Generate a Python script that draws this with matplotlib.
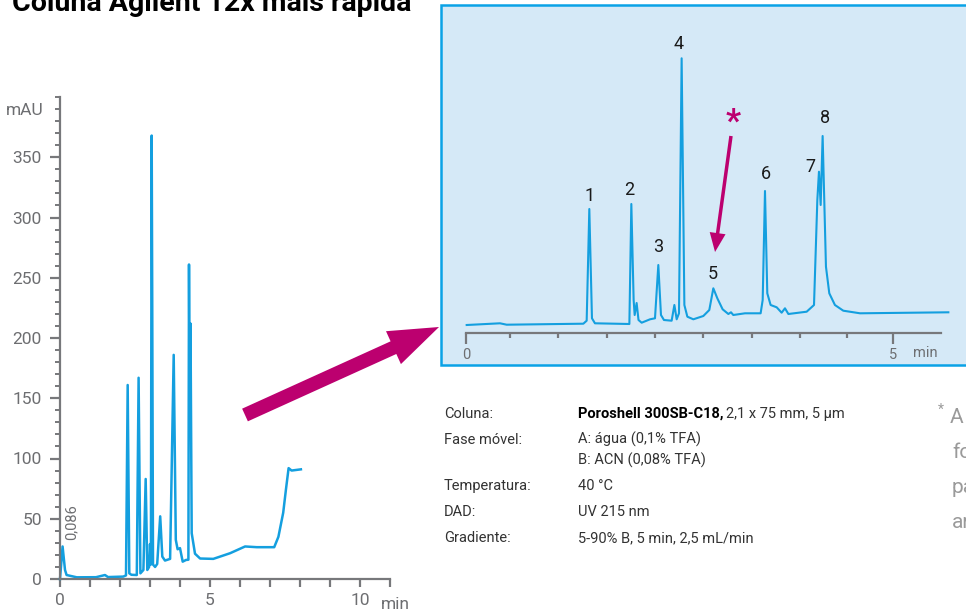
import numpy as np
import matplotlib
matplotlib.use('Agg')
import matplotlib.pyplot as plt
from matplotlib.patches import Rectangle

plt.rcParams['font.family'] = ['Roboto', 'DejaVu Sans']

# left chromatogram, standard column (min, mAU)
t_full = [0, 0.086, 0.167, 0.22, 0.56, 1.2, 1.5, 1.6, 2.11, 2.2, 2.256, 2.31, 2.38, 2.56,
          2.62, 2.68, 2.78, 2.856, 2.91, 2.97, 3.0, 3.03, 3.056, 3.075, 3.1, 3.17, 3.24,
          3.34, 3.41, 3.5, 3.67, 3.79, 3.86, 3.92, 4.0, 4.09, 4.2, 4.28, 4.3, 4.32, 4.35,
          4.39, 4.5, 4.67, 5.11, 5.67, 6.17, 6.56, 7.14, 7.28, 7.44, 7.53, 7.62, 7.72, 8.03]
mau_full = [0, 27, 7.5, 3.3, 1.4, 1.5, 3.3, 1.6, 2, 3, 161, 4.7, 3.5, 3.3,
            167, 4.7, 7.5, 83, 7.5, 10, 29, 12, 368, 226, 12, 10, 12.5,
            52, 18.6, 15.3, 16.7, 186, 32.5, 24.7, 25.6, 14.4, 15.8, 16, 261, 150, 212,
            38, 21, 17, 16.7, 21.4, 27, 26.4, 26.4, 35, 55, 74, 92, 90, 91]

# inset chromatogram, Poroshell column
t_fast = [0.008, 0.398, 0.476, 1.374, 1.413, 1.444, 1.475, 1.51, 1.913, 1.936, 1.963, 1.975,
          1.998, 2.02, 2.057, 2.155, 2.213, 2.252, 2.283, 2.318, 2.408, 2.44, 2.467, 2.494,
          2.525, 2.557, 2.592, 2.662, 2.779, 2.849, 2.896, 2.943, 3.005, 3.072, 3.103, 3.13,
          3.267, 3.45, 3.474, 3.501, 3.528, 3.567, 3.638, 3.696, 3.735, 3.775, 3.989, 4.075,
          4.114, 4.133, 4.153, 4.176, 4.215, 4.254, 4.32, 4.418, 4.614, 5.648]
mau_fast = [8, 9.7, 8.3, 9.3, 12.3, 124, 14.7, 9.7, 9, 129, 33, 18,
            30, 13, 10.3, 13.7, 14.7, 68, 18, 13, 12.3, 28, 13.7, 19.7,
            274.7, 28, 16.3, 13.7, 17, 23, 44.7, 34.7, 23.7, 19, 20.7, 18,
            19.7, 19.7, 33, 142, 39.7, 28, 25.7, 20.3, 24.7, 19, 21.3, 28,
            133, 161.3, 128, 197, 66.3, 39.7, 28, 22.3, 19.7, 20.7]

peak_ids = ['1', '2', '3', '4', '5', '6', '7', '8']
peak_lbl_t = [1.452, 1.909, 2.248, 2.494, 2.892, 3.513, 4.028, 4.204]
peak_lbl_y = [137, 143, 86, 289, 59, 159, 166, 215]
inset_minor = [0.515, 1.081, 1.647, 2.213, 2.779, 3.345, 3.911, 4.465]

cond_rows = ['Coluna:', 'Fase móvel:', '', 'Temperatura:', 'DAD:', 'Gradiente:']
cond_vals = ['', 'A: água (0,1% TFA)', 'B: ACN (0,08% TFA)', '40 °C', 'UV 215 nm',
             '5-90% B, 5 min, 2,5 mL/min']
row_y = [418, 444, 465, 490, 516, 542]

blue = '#149fdf'
gray = '#77787b'
txtgray = '#6d6e71'
mag = '#bc006f'

W, H = 966, 613
fig = plt.figure(figsize=(W / 100, H / 100), dpi=100)

# ---- left chart
ax = fig.add_axes([60 / W, (H - 579) / H, 330 / W, 482 / H])
ax.plot(t_full, mau_full, color=blue, lw=1.8, solid_joinstyle='round', clip_on=False)
ax.set_xlim(0, 11)
ax.set_ylim(0, 400)
for s in ['top', 'right']:
    ax.spines[s].set_visible(False)
for s in ['left', 'bottom']:
    ax.spines[s].set_color(gray)
    ax.spines[s].set_linewidth(1.6)
ax.set_yticks(np.arange(0, 351, 50))
ax.set_yticks(np.arange(0, 401, 10), minor=True)
ax.set_xticks(range(12))
ax.set_xticklabels(['0', '', '', '', '', '5', '', '', '', '', '10', ''])
ax.tick_params(axis='both', which='both', colors=gray, labelcolor=txtgray, labelsize=12.5,
               width=1.6)
ax.tick_params(axis='y', which='major', length=7, pad=6)
ax.tick_params(axis='y', which='minor', length=3.5, width=1.4)
ax.tick_params(axis='x', length=6, pad=4)
ax.text(-0.55, 389, 'mAU', ha='right', va='center', color=txtgray, fontsize=12.5)
ax.text(11.17, -21, 'min', ha='center', va='center', color=txtgray, fontsize=12.5,
        clip_on=False)
ax.text(0.37, 47, '0,086', rotation=90, ha='center', va='center', color=txtgray,
        fontsize=10.5)

title = fig.text(12 / W, 1 - 11 / H, 'Coluna Agilent 12x mais rápida', fontsize=18,
                 weight='bold', va='baseline', ha='left', color='black')
fig.canvas.draw()
tw = title.get_window_extent().width
title.set_fontsize(18 * 400 / tw)

# ---- inset panel
fig.add_artist(Rectangle((441 / W, (H - 365) / H), 540 / W, 360 / H, transform=fig.transFigure,
                         facecolor='#d5e9f7', edgecolor='#0aa2e6', lw=1.8, zorder=0))
ax2 = fig.add_axes([466 / W, (H - 333) / H, 5.65 * 85.4 / W, 293 / H])
ax2.patch.set_visible(False)
ax2.plot(t_fast, mau_fast, color=blue, lw=1.5, solid_joinstyle='round', clip_on=False)
ax2.set_xlim(0, 5.65)
ax2.set_ylim(0, 293)
for s in ['top', 'right', 'left']:
    ax2.spines[s].set_visible(False)
ax2.spines['bottom'].set_color(gray)
ax2.spines['bottom'].set_linewidth(1.6)
ax2.spines['bottom'].set_bounds(0, 5.56)
ax2.set_yticks([])
ax2.set_xticks([0, 5])
ax2.set_xticks(inset_minor, minor=True)
ax2.tick_params(axis='x', which='major', colors=gray, labelcolor=txtgray, labelsize=10.5,
                length=8, width=1.6, pad=3)
ax2.tick_params(axis='x', which='minor', colors=gray, length=3.5, width=1.6)
ax2.text(5.52, -20, 'min', ha='right', va='center', color=txtgray, fontsize=10.5,
         clip_on=False)
for pid, pt, py in zip(peak_ids, peak_lbl_t, peak_lbl_y):
    ax2.text(pt, py, pid, ha='center', va='center', fontsize=13, color='#1a1a1a')
ax2.text(3.126, 210, '*', ha='center', va='center', fontsize=24, weight='bold', color=mag)
ax2.annotate('', xy=(2.916, 81), xytext=(3.103, 197),
             arrowprops=dict(arrowstyle='simple,head_length=13.7,head_width=11.5,tail_width=2.5',
                             mutation_scale=1, fc=mag, ec='none', shrinkA=0, shrinkB=0))

# big arrow
ax.annotate('', xy=(439, 286), xycoords='figure pixels', xytext=(245, 198),
            textcoords='figure pixels', annotation_clip=False,
            arrowprops=dict(arrowstyle='simple,head_length=36,head_width=26,tail_width=10',
                            mutation_scale=1, fc=mag, ec='none', shrinkA=0, shrinkB=0))

# ---- conditions
tc = '#333333'
fs = 10.5
for lab, val, yy in zip(cond_rows, cond_vals, row_y):
    if lab:
        fig.text(444 / W, 1 - yy / H, lab, fontsize=fs, color=tc, va='baseline')
    if val:
        fig.text(578 / W, 1 - yy / H, val, fontsize=fs, color=tc, va='baseline')
bold = fig.text(578 / W, 1 - row_y[0] / H, 'Poroshell 300SB-C18,', fontsize=fs,
                weight='bold', color='black', va='baseline')
fig.canvas.draw()
bb = bold.get_window_extent()
fig.text((bb.x1 + 3) / W, 1 - row_y[0] / H, '2,1 x 75 mm, 5 µm', fontsize=fs,
         color=tc, va='baseline')

# cut-off note at right
note = '#9a9a9a'
fig.text(938 / W, 1 - 414 / H, '*', fontsize=10, color=note, va='baseline')
fig.text(950 / W, 1 - 423 / H, 'A', fontsize=15, color=note, va='baseline')
fig.text(952 / W, 1 - 458 / H, 'fo', fontsize=15, color=note, va='baseline')
fig.text(952 / W, 1 - 493 / H, 'pa', fontsize=15, color=note, va='baseline')
fig.text(952 / W, 1 - 528 / H, 'ar', fontsize=15, color=note, va='baseline')

fig.savefig('out.png', dpi=100)
